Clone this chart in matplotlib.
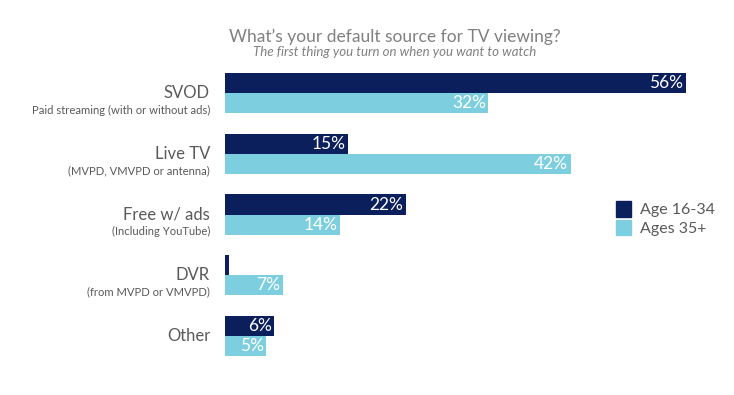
import matplotlib
matplotlib.use("Agg")
import matplotlib.pyplot as plt
from matplotlib.patches import Patch
import numpy as np

categories = ["SVOD", "Live TV", "Free w/ ads", "DVR", "Other"]
sublabels = ["Paid streaming (with or without ads)", "(MVPD, VMVPD or antenna)",
             "(Including YouTube)", "(from MVPD or VMVPD)", ""]
young = [56, 15, 22, 0.5, 6]
older = [32, 42, 14, 7, 5]
young_labels = ["56%", "15%", "22%", "", "6%"]
older_labels = ["32%", "42%", "14%", "7%", "5%"]
series_names = ["Age 16-34", "Ages 35+"]

DARK = "#0b1f5c"
LIGHT = "#7dcfdf"
GREY = "#5a5a5a"

plt.rcParams["font.family"] = ["Lato", "DejaVu Sans"]

W, H = 734, 395
fig = plt.figure(figsize=(W / 100, H / 100), dpi=100)
ax = fig.add_axes([225 / W, 1 - 366.4 / H, (W - 225) / W, 303.75 / H])

y = np.arange(len(categories))
h = 0.33
ax.barh(y - h / 2, young, height=h, color=DARK)
ax.barh(y + h / 2, older, height=h, color=LIGHT)
ax.set_xlim(0, (W - 225) / 8.23)
ax.set_ylim(len(categories) - 0.5, -0.5)
ax.axis("off")

for i in range(len(categories)):
    if young_labels[i]:
        ax.text(young[i] - 0.3, y[i] - h / 2, young_labels[i], color="white",
                ha="right", va="center", fontsize=12.5)
    ax.text(older[i] - 0.3, y[i] + h / 2, older_labels[i], color="white",
            ha="right", va="center", fontsize=12.5)

# category labels left of the bars
for i, (c, s) in enumerate(zip(categories, sublabels)):
    yc = 1 - (93 + 60.75 * i) / H
    fig.text(210 / W, yc, c, ha="right", va="center", fontsize=12, color=GREY)
    if s:
        fig.text(210 / W, yc - 17 / H, s, ha="right", va="center", fontsize=8.1, color=GREY)

fig.text(395 / W, 1 - 37 / H, "What\u2019s your default source for TV viewing?",
         ha="center", va="center", fontsize=12.5, color="#808080")
fig.text(395 / W, 1 - 52 / H, "The first thing you turn on when you want to watch",
         ha="center", va="center", fontsize=9.5, color="#808080", style="italic")

handles = [Patch(color=DARK), Patch(color=LIGHT)]
fig.legend(handles, series_names, loc="upper left", bbox_to_anchor=(610 / W, 1 - 195 / H),
           frameon=False, fontsize=11.5, handlelength=0.9, handleheight=1.1,
           handletextpad=0.6, labelspacing=0.15, labelcolor=GREY, borderaxespad=0)

fig.savefig("out.png", dpi=100)
